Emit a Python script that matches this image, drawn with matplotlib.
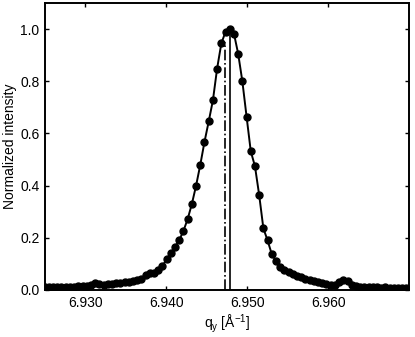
import numpy as np
import matplotlib
matplotlib.use('Agg')
import matplotlib.pyplot as plt

plt.rcParams['font.family'] = ['Liberation Sans', 'DejaVu Sans']
plt.rcParams['mathtext.fontset'] = 'custom'
plt.rcParams['mathtext.rm'] = 'Liberation Sans'
plt.rcParams['mathtext.it'] = 'Liberation Sans'

# measured q_y positions [1/A] and normalized intensity
q = [6.92496, 6.92548, 6.92600, 6.92652, 6.92704, 6.92756, 6.92808, 6.92860,
     6.92912, 6.92964, 6.93016, 6.93068, 6.93120, 6.93172, 6.93224, 6.93276,
     6.93328, 6.93380, 6.93432, 6.93484, 6.93536, 6.93588, 6.93640, 6.93692,
     6.93744, 6.93796, 6.93848, 6.93900, 6.93952, 6.94004, 6.94056, 6.94108,
     6.94160, 6.94212, 6.94264, 6.94316, 6.94368, 6.94420, 6.94472, 6.94524,
     6.94576, 6.94628, 6.94680, 6.94732, 6.94784, 6.94836, 6.94888, 6.94940,
     6.94992, 6.95044, 6.95096, 6.95148, 6.95200, 6.95252, 6.95304, 6.95356,
     6.95408, 6.95460, 6.95512, 6.95564, 6.95616, 6.95668, 6.95720, 6.95772,
     6.95824, 6.95876, 6.95928, 6.95980, 6.96032, 6.96084, 6.96136, 6.96188,
     6.96240, 6.96292, 6.96344, 6.96396, 6.96448, 6.96500, 6.96552, 6.96604,
     6.96656, 6.96708, 6.96760, 6.96812, 6.96864, 6.96916, 6.96968]
intensity = [0.012, 0.011, 0.010, 0.011, 0.010, 0.012, 0.012, 0.013,
             0.014, 0.016, 0.017, 0.021, 0.025, 0.022, 0.020, 0.022,
             0.024, 0.025, 0.027, 0.029, 0.031, 0.034, 0.037, 0.042,
             0.058, 0.064, 0.066, 0.075, 0.092, 0.118, 0.141, 0.165,
             0.191, 0.227, 0.272, 0.330, 0.400, 0.480, 0.568, 0.646,
             0.727, 0.849, 0.945, 0.990, 1.000, 0.983, 0.906, 0.800,
             0.665, 0.532, 0.474, 0.364, 0.236, 0.190, 0.137, 0.112,
             0.090, 0.078, 0.068, 0.060, 0.054, 0.048, 0.043, 0.038,
             0.034, 0.030, 0.026, 0.022, 0.019, 0.020, 0.030, 0.037,
             0.033, 0.020, 0.014, 0.012, 0.011, 0.010, 0.011, 0.010,
             0.009, 0.010, 0.009, 0.008, 0.009, 0.008, 0.008]

# peak positions marked by vertical lines (position, height)
q_peak = 6.9479
h_peak = 1.0
q_centroid = 6.9472
h_centroid = 0.95

xticks = [6.930, 6.940, 6.950, 6.960]
yticks = [0.0, 0.2, 0.4, 0.6, 0.8, 1.0]

fig = plt.figure(figsize=(4.15, 3.37), dpi=100)
ax = fig.add_axes([0.1084, 0.1395, 0.8771, 0.8515])

ax.plot(q, intensity, '-o', color='k', lw=1.4, ms=5, mfc='k', mec='k')
ax.plot([q_peak, q_peak], [0, h_peak], '-', color='k', lw=1.2)
ax.plot([q_centroid, q_centroid], [0, h_centroid], '-.', color='k', lw=1.2)

ax.set_xlim(6.925, 6.970)
ax.set_ylim(0, 1.1)
ax.set_xticks(xticks)
ax.set_xticklabels(['%.3f' % t for t in xticks])
ax.set_yticks(yticks)
ax.set_yticklabels(['%.1f' % t for t in yticks])

ax.tick_params(direction='in', top=True, right=True, length=3, width=1,
               labelsize=10, pad=4)
for s in ax.spines.values():
    s.set_linewidth(1.4)

ax.set_xlabel(r'q$_\mathregular{y}$ [Å$^\mathregular{-1}$]', fontsize=10, labelpad=2)
ax.set_ylabel('Normalized intensity', fontsize=10)
ax.yaxis.set_label_coords(-0.077, 0.5)

fig.savefig('out.png', dpi=100)
